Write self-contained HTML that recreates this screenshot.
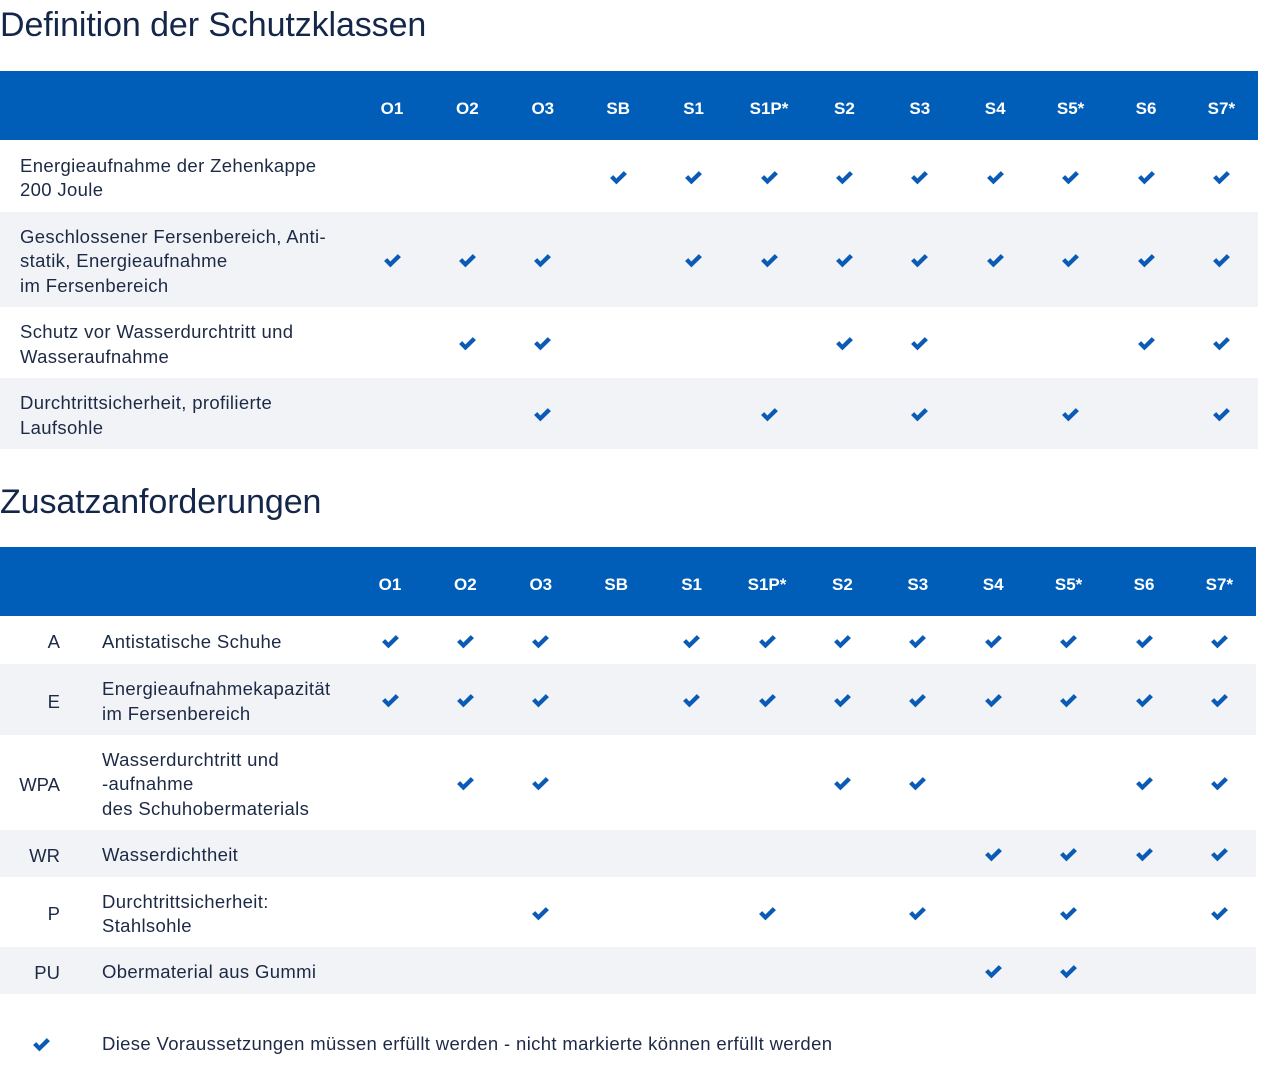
<!DOCTYPE html>
<html><head><meta charset="utf-8"><style>
body{margin:0;width:1280px;height:1070px;background:#fff;position:relative;font-family:"Liberation Sans",sans-serif;color:#1d2a45;overflow:hidden}
h1{position:absolute;margin:0;font-weight:400;font-size:34px;color:#14274a;left:0;letter-spacing:-0.1px}
.hd{position:absolute;background:#005eb8;left:0}
.hl{position:absolute;color:#fff;font-size:17px;font-weight:700;transform:translateX(-50%);}
.row{position:absolute;left:0}
.t{position:absolute;font-size:18.5px;line-height:24.5px;letter-spacing:0.35px}
.code{position:absolute;font-size:18.5px;text-align:right;width:60px;left:0}
svg.c{position:absolute;width:19px;height:15px}
</style></head><body>
<h1 style="top:6px">Definition der Schutzklassen</h1>
<h1 style="top:483px">Zusatzanforderungen</h1>
<div id="root"></div>
<script>
const cols=["O1","O2","O3","SB","S1","S1P*","S2","S3","S4","S5*","S6","S7*"];
const r=document.getElementById('root');
function add(h){r.insertAdjacentHTML('beforeend',h);}
function chk(x,y){add(`<svg class="c" style="left:${x-9.5}px;top:${y-6.5}px" viewBox="0 0 18 14"><path d="M1 7.5 L4 4.8 L7 8 L14 1 L17 3.8 L7 13.5 Z" fill="#0a5bb5"/></svg>`);}
function table(top,hh,x0,w,rows,rowsTop){
 add(`<div class="hd" style="top:${top}px;height:${hh}px;width:${w}px"></div>`);
 cols.forEach((c,i)=>add(`<div class="hl" style="left:${x0+i*75.4}px;top:${top+hh/2-7}px">${c}</div>`));
 let y=rowsTop;
 rows.forEach((rw,k)=>{
  add(`<div class="row" style="top:${y}px;height:${rw.h}px;width:${w}px;background:${k%2?'#f1f3f7':'#fff'}"></div>`);
  const n=rw.txt.length, ty=y+rw.h/2-n*24.5/2+2;
  add(`<div class="t" style="left:${rw.code!==undefined?102:20}px;top:${ty}px">${rw.txt.join('<br>')}</div>`);
  if(rw.code!==undefined) add(`<div class="code" style="top:${y+rw.h/2-10}px;line-height:24px">${rw.code}</div>`);
  rw.m.split('').forEach((v,i)=>{if(v=='1')chk(x0+i*75.4,y+rw.h/2);});
  y+=rw.h;
 });
}
table(71,69,392,1258,[
 {h:72,txt:["Energieaufnahme der Zehenkappe","200 Joule"],m:"000111111111"},
 {h:95,txt:["Geschlossener Fersenbereich, Anti-","statik, Energieaufnahme","im Fersenbereich"],m:"111011111111"},
 {h:71,txt:["Schutz vor Wasserdurchtritt und","Wasseraufnahme"],m:"011000110011"},
 {h:71,txt:["Durchtrittsicherheit, profilierte","Laufsohle"],m:"001001010101"}
],140);
table(547,69,390,1256,[
 {h:48,code:"A",txt:["Antistatische Schuhe"],m:"111011111111"},
 {h:71,code:"E",txt:["Energieaufnahmekapazität","im Fersenbereich"],m:"111011111111"},
 {h:95,code:"WPA",txt:["Wasserdurchtritt und","-aufnahme","des Schuhobermaterials"],m:"011000110011"},
 {h:47,code:"WR",txt:["Wasserdichtheit"],m:"000000001111"},
 {h:70,code:"P",txt:["Durchtrittsicherheit:","Stahlsohle"],m:"001001010101"},
 {h:47,code:"PU",txt:["Obermaterial aus Gummi"],m:"000000001100"}
],616);
chk(41,1043);
add(`<div class="t" style="left:102px;top:1032px">Diese Voraussetzungen müssen erfüllt werden - nicht markierte können erfüllt werden</div>`);
</script>
</body></html>
